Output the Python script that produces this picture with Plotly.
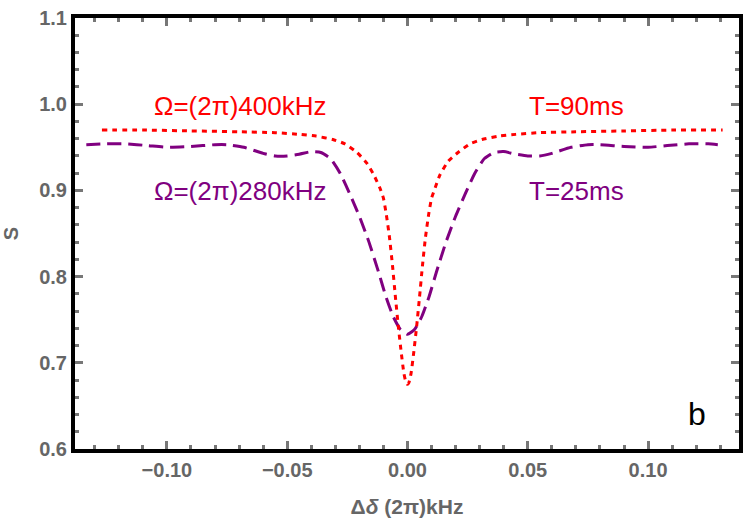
import plotly.graph_objects as go

# Red dotted curve: Omega=(2pi)400kHz, T=90ms
red_x = [-0.127, -0.11, -0.09, -0.07, -0.055, -0.045, -0.038, -0.031, -0.026, -0.021,
         -0.017, -0.014, -0.0115, -0.0100, -0.0088, -0.0075, -0.0062, -0.0050, -0.0038,
         -0.0026, -0.0015, -0.0006, 0.0, 0.0006, 0.0015, 0.0026, 0.0038, 0.0050, 0.0062,
         0.0075, 0.0088, 0.0100, 0.0115, 0.0135, 0.017, 0.021, 0.026, 0.031, 0.038,
         0.045, 0.055, 0.07, 0.09, 0.11, 0.131]
red_y = [0.970, 0.970, 0.969, 0.968, 0.967, 0.965, 0.963, 0.959, 0.954, 0.944,
         0.932, 0.918, 0.903, 0.891, 0.872, 0.846, 0.812, 0.776, 0.742,
         0.712, 0.688, 0.677, 0.675, 0.677, 0.688, 0.712, 0.742, 0.776, 0.812,
         0.846, 0.872, 0.891, 0.903, 0.918, 0.934, 0.944, 0.954, 0.959, 0.963,
         0.965, 0.967, 0.968, 0.969, 0.970, 0.970]

# Purple dashed curve: Omega=(2pi)280kHz, T=25ms
pur_x = [-0.1335, -0.125, -0.117, -0.108, -0.100, -0.090, -0.080, -0.075, -0.068,
         -0.060, -0.055, -0.050, -0.045, -0.040, -0.036, -0.032, -0.028, -0.024,
         -0.020, -0.016, -0.012, -0.009, -0.006, -0.003, 0.0, 0.003, 0.006, 0.009,
         0.012, 0.016, 0.020, 0.024, 0.028, 0.032, 0.036, 0.040, 0.045, 0.050,
         0.055, 0.060, 0.068, 0.075, 0.080, 0.090, 0.100, 0.108, 0.117, 0.125, 0.129]
pur_y = [0.953, 0.954, 0.954, 0.952, 0.950, 0.951, 0.953, 0.953, 0.950,
         0.943, 0.940, 0.940, 0.942, 0.945, 0.944, 0.937, 0.920, 0.896,
         0.870, 0.840, 0.805, 0.777, 0.754, 0.739, 0.733, 0.739, 0.754, 0.777,
         0.805, 0.840, 0.870, 0.896, 0.920, 0.937, 0.944, 0.945, 0.942, 0.940,
         0.940, 0.943, 0.950, 0.953, 0.953, 0.951, 0.950, 0.952, 0.954, 0.954, 0.953]

x_ticks = [-0.10, -0.05, 0.00, 0.05, 0.10]
x_tick_labels = ["\u22120.10", "\u22120.05", "0.00", "0.05", "0.10"]
y_ticks = [0.6, 0.7, 0.8, 0.9, 1.0, 1.1]
y_tick_labels = ["0.6", "0.7", "0.8", "0.9", "1.0", "1.1"]

FONT = "Liberation Sans, Arial, sans-serif"

fig = go.Figure()
fig.add_trace(go.Scatter(x=pur_x, y=pur_y, mode="lines",
                         line=dict(color="#800080", width=3, dash="14px,7px", shape="spline", smoothing=0.5),
                         showlegend=False))
fig.add_trace(go.Scatter(x=red_x, y=red_y, mode="lines",
                         line=dict(color="#ff0000", width=3, dash="5px,5px", shape="spline", smoothing=0.5),
                         showlegend=False))

font_lbl = dict(family=FONT, size=26)
fig.add_annotation(x=-0.0694, y=0.998, text="\u03a9=(2\u03c0)400kHz", showarrow=False,
                   font=dict(color="#ff0000", **font_lbl), xanchor="center", yanchor="middle")
fig.add_annotation(x=-0.0694, y=0.899, text="\u03a9=(2\u03c0)280kHz", showarrow=False,
                   font=dict(color="#800080", **font_lbl), xanchor="center", yanchor="middle")
fig.add_annotation(x=0.0702, y=0.998, text="T=90ms", showarrow=False,
                   font=dict(color="#ff0000", **font_lbl), xanchor="center", yanchor="middle")
fig.add_annotation(x=0.0702, y=0.899, text="T=25ms", showarrow=False,
                   font=dict(color="#800080", **font_lbl), xanchor="center", yanchor="middle")
fig.add_annotation(x=0.1205, y=0.641, text="b", showarrow=False,
                   font=dict(color="#000000", family=FONT, size=32),
                   xanchor="center", yanchor="middle")

tickfont = dict(family=FONT, size=20, color="#666666")

fig.update_xaxes(range=[-0.1382, 0.1378], showline=True, linecolor="black", linewidth=4,
                 mirror="allticks", ticks="inside", ticklen=8, tickwidth=3, tickcolor="#777777",
                 tickvals=x_ticks, ticktext=["<b>%s</b>" % t for t in x_tick_labels], tickfont=tickfont,
                 showgrid=False, zeroline=False,
                 minor=dict(ticks="inside", ticklen=4, tickwidth=3, tickcolor="#777777", dtick=0.01, tick0=0, showgrid=False),
                 title=dict(text="<b>\u0394<i>\u03b4</i> (2\u03c0)kHz</b>", font=dict(family=FONT, size=21, color="#666666"), standoff=20))
fig.update_yaxes(range=[0.6, 1.1], showline=True, linecolor="black", linewidth=4,
                 mirror="allticks", ticks="inside", ticklen=8, tickwidth=3, tickcolor="#777777",
                 tickvals=y_ticks, ticktext=["<b>%s</b>" % t for t in y_tick_labels], tickfont=tickfont,
                 showgrid=False, zeroline=False,
                 minor=dict(ticks="inside", ticklen=4, tickwidth=3, tickcolor="#777777", dtick=0.02, tick0=0.6, showgrid=False),
                 title=dict(text="<b>S</b>", font=dict(family=FONT, size=20, color="#666666"), standoff=18))

fig.update_layout(width=750, height=525, margin=dict(l=75, r=7, t=13, b=76),
                  plot_bgcolor="white", paper_bgcolor="white")

fig.write_html("out.html")
